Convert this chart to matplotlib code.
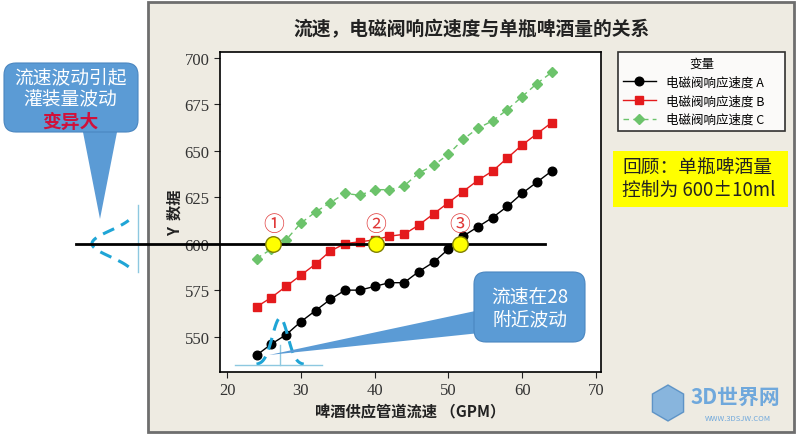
import numpy as np
import matplotlib
matplotlib.use("Agg")
import matplotlib.pyplot as plt
from matplotlib.patches import FancyBboxPatch, Polygon, Rectangle, RegularPolygon
from matplotlib.transforms import Affine2D, blended_transform_factory

plt.rcParams['font.family'] = ['Noto Sans CJK SC', 'DejaVu Sans']

# data
flow = [24, 26, 28, 30, 32, 34, 36, 38, 40, 42, 44, 46, 48, 50, 52, 54, 56, 58, 60, 62, 64]
valve_a = [540, 546, 551, 558, 564, 570, 575, 575, 577, 579, 579, 585, 590, 597, 604, 609, 614, 620, 627, 633, 639]
valve_b = [566, 571, 577, 583, 589, 596, 600, 601, 602, 604, 605, 610, 616, 622, 628, 634, 639, 646, 653, 659, 665]
valve_c = [592, 597, 602, 611, 617, 622, 627, 626, 629, 629, 631, 638, 642, 648, 656, 662, 666, 672, 679, 686, 692]
series_labels = ['电磁阀响应速度 A', '电磁阀响应速度 B', '电磁阀响应速度 C']
target = 600
cross_flow = [26.3, 40.2, 51.6]
cross_labels = ['①', '②', '③']
x_ticks = [20, 30, 40, 50, 60, 70]
y_ticks = [550, 575, 600, 625, 650, 675, 700]

W, H = 800, 435
fig = plt.figure(figsize=(W / 100, H / 100), dpi=100)
fig.patch.set_facecolor('white')
# pixel coords, origin top-left
px = Affine2D().scale(1 / W, -1 / H).translate(0, 1) + fig.transFigure

# beige slide panel
fig.add_artist(Rectangle((148, 3), 646, 430, transform=px, facecolor='#EEEBE2',
                         edgecolor='#6E6E6E', lw=2, zorder=-10))

ax = fig.add_axes([220 / W, 1 - 373 / H, 381 / W, 320 / H])
ax.set_facecolor('white')

ax.plot(flow, valve_a, '-o', color='black', ms=6.2, lw=1, label=series_labels[0])
ax.plot(flow, valve_b, '-s', color='#E41A1C', ms=5.8, lw=1, label=series_labels[1])
ax.plot(flow, valve_c, '--D', color='#6CC36B', ms=5.5, lw=1, dashes=(4, 3), label=series_labels[2])

ax.set_xlim(19.05, 70.7)
ax.set_ylim(531, 703)
ax.set_xticks(x_ticks)
ax.set_yticks(y_ticks)
ax.tick_params(labelsize=12, color='#222222', labelcolor='#333333', length=4)
for lbl in ax.get_xticklabels() + ax.get_yticklabels():
    lbl.set_fontfamily('Liberation Serif')
for s in ax.spines.values():
    s.set_linewidth(1.2)
    s.set_color('black')

ax.set_xlabel('啤酒供应管道流速 （GPM）', fontsize=11, fontweight='bold', color='#222222')
ax.xaxis.set_label_coords(0.5, -0.095)
ax.set_ylabel('Y  数据', fontsize=11, fontweight='bold', color='#222222')
ax.yaxis.set_label_coords(-0.098, 0.5)

fig.text(472, 30, '流速，电磁阀响应速度与单瓶啤酒量的关系', transform=px,
         ha='center', va='center', fontsize=13.5, fontweight='bold', color='#222222')

# target line 600 ml, running out to the left margin
mix = blended_transform_factory(px, ax.transData)
ax.plot([76, 545], [target, target], transform=mix, color='black', lw=2,
        clip_on=False, zorder=4)
ax.scatter(cross_flow, [target] * len(cross_flow), s=125, c='#FFFF00',
           edgecolors='#7F7F00', linewidths=1, zorder=6, clip_on=False)
for x, lab in zip(cross_flow, cross_labels):
    ax.text(x, target + 10.5, lab, color='#E03A3A', fontsize=15,
            ha='center', va='center', zorder=6)

# sketch of flow fluctuation near 28 GPM
gx = np.linspace(24, 30.4, 80)
gy = 535 + 25 * np.exp(-(gx - 27.2) ** 2 / (2 * 1.05 ** 2))
ax.plot(gx, gy, color='#1FA5D6', lw=2.2, dashes=(4, 2.5), zorder=3)
ax.plot([21.1, 32.9], [535, 535], color='#8DC8E0', lw=1, zorder=3)
ax.plot([27.2, 27.2], [535, 545.3], color='#8DC8E0', lw=1, zorder=3)

# sideways sketch of fill variation at the left
vy = np.linspace(target - 12.5, target + 12.5, 80)
vx = 138 - 46 * np.exp(-(vy - target) ** 2 / (2 * 7 ** 2))
ax.plot(vx, vy, transform=mix, color='#1FA5D6', lw=2.2, dashes=(4, 2.5), clip_on=False)
ax.plot([138, 138], [target - 15, target + 21], transform=mix, color='#8DC8E0', lw=1,
        clip_on=False)

legend = ax.legend(loc='upper left', bbox_to_anchor=(618 / W, 1 - 128 / H, 167 / W, 75 / H),
                   bbox_transform=fig.transFigure, mode='expand', title='变量',
                   fontsize=9, title_fontsize=9, frameon=True, fancybox=False,
                   edgecolor='black', handlelength=2.6, borderpad=0.4,
                   labelspacing=0.45, borderaxespad=0)
legend.get_frame().set_linewidth(1.2)

# callouts
blue = '#5B9BD5'
fig.add_artist(Polygon([(82, 128), (118, 128), (100, 220)], transform=px,
                       facecolor=blue, edgecolor='none'))
fig.add_artist(FancyBboxPatch((4, 64), 134, 69, boxstyle='round,pad=0,rounding_size=12',
                              transform=px, facecolor=blue, edgecolor='#4A86C0', lw=0.8))
fig.text(70, 78, '流速波动引起', transform=px, ha='center', va='center',
         fontsize=13.5, color='white')
fig.text(70, 100, '灌装量波动', transform=px, ha='center', va='center',
         fontsize=13.5, color='white')
fig.text(70, 122, '变异大', transform=px, ha='center', va='center',
         fontsize=13.5, color='#D0103A', fontweight='bold')

fig.add_artist(Polygon([(269, 356), (480, 311), (480, 334)], transform=px,
                       facecolor=blue, edgecolor='none'))
fig.add_artist(FancyBboxPatch((474, 273), 111, 70, boxstyle='round,pad=0,rounding_size=12',
                              transform=px, facecolor=blue, edgecolor='#4A86C0', lw=0.8))
fig.text(530, 298, '流速在28', transform=px, ha='center', va='center',
         fontsize=13.5, color='white')
fig.text(530, 320, '附近波动', transform=px, ha='center', va='center',
         fontsize=13.5, color='white')

# spec note
fig.add_artist(Rectangle((613, 152), 175, 56, transform=px, facecolor='#FFFF00',
                         edgecolor='none'))
fig.text(622, 168, '回顾：单瓶啤酒量', transform=px, ha='left', va='center',
         fontsize=13.5, color='#222222')
fig.text(622, 190, '控制为 600±10ml', transform=px, ha='left', va='center',
         fontsize=13.5, color='#222222')

# watermark
fig.add_artist(RegularPolygon((668, 404), 6, radius=18, transform=px,
                              facecolor='#6FA8DC', edgecolor='#4A86C0', alpha=0.8))
fig.text(735, 397, '3D世界网', transform=px, ha='center', va='center',
         fontsize=15, color='#6FA8DC', fontweight='bold')
fig.text(738, 419, 'WWW.3DSJW.COM', transform=px, ha='center', va='center',
         fontsize=5.5, color='#6FA8DC')

fig.savefig('out.png', dpi=100)
